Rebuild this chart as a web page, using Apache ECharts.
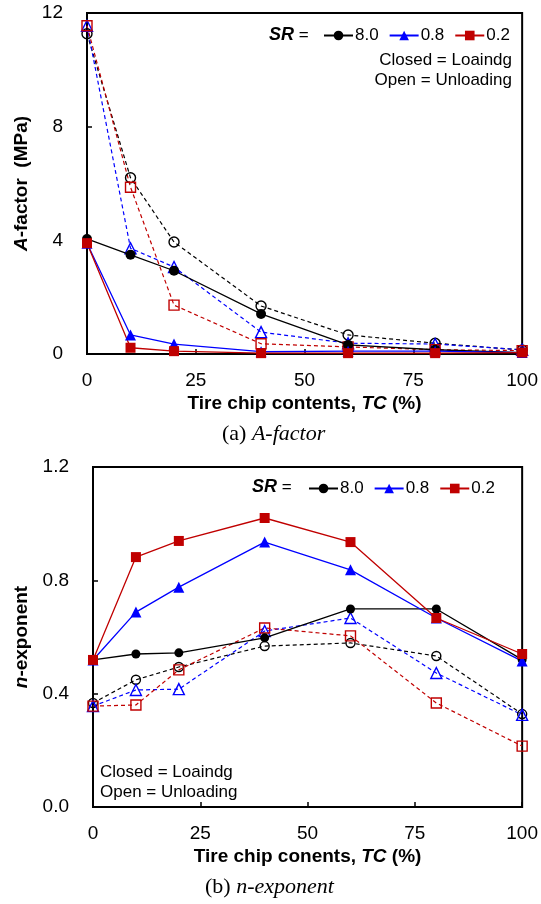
<!DOCTYPE html>
<html><head><meta charset="utf-8">
<script src="https://cdn.jsdelivr.net/npm/echarts@6/dist/echarts.min.js"></script>
<style>html,body{margin:0;padding:0;background:#fff}#c{width:541px;height:904px}</style>
</head><body><div id="c"></div>
<script>
const tc = [0, 10, 20, 40, 60, 80, 100];
const xTicks = [0, 25, 50, 75, 100];
const aTicks = [0, 4, 8, 12];
const nTicks = [0, 0.4, 0.8, 1.2];
const srNames = ['8.0', '0.8', '0.2'];

// (a) A-factor (MPa)
const aLoad80 = [4.05, 3.49, 2.93, 1.41, 0.32, 0.15, 0.05];
const aLoad08 = [3.9, 0.67, 0.35, 0.08, 0.1, 0.1, 0.05];
const aLoad02 = [3.9, 0.22, 0.1, 0.03, 0.03, 0.03, 0.05];
const aUnl80 = [11.27, 6.2, 3.94, 1.69, 0.67, 0.38, 0.14];
const aUnl08 = [11.55, 3.72, 3.06, 0.77, 0.38, 0.35, 0.15];
const aUnl02 = [11.55, 5.87, 1.72, 0.36, 0.25, 0.15, 0.12];

// (b) n-exponent
const nLoad80 = [0.519, 0.54, 0.544, 0.597, 0.699, 0.699, 0.52];
const nLoad08 = [0.519, 0.688, 0.776, 0.935, 0.837, 0.667, 0.515];
const nLoad02 = [0.519, 0.882, 0.939, 1.02, 0.935, 0.667, 0.54];
const nUnl80 = [0.367, 0.449, 0.494, 0.568, 0.579, 0.533, 0.328];
const nUnl08 = [0.356, 0.413, 0.416, 0.621, 0.667, 0.473, 0.325];
const nUnl02 = [0.356, 0.36, 0.484, 0.632, 0.604, 0.367, 0.215];

const colors = ['#000000', '#0000FF', '#C00000'];
const syms = ['circle', 'triangle', 'rect'];
const FONT = 'Liberation Sans';
const pair = (ys) => ys.map((y, i) => [tc[i], y]);

function closed(name, data, k, gi, size) {
  return { name: name, type: 'line', xAxisIndex: gi, yAxisIndex: gi, data: pair(data),
    symbol: syms[k], symbolSize: size, z: 5,
    lineStyle: { color: colors[k], width: 1.3, type: 'solid' },
    itemStyle: { color: colors[k] }, emphasis: { disabled: true }, animation: false };
}
function open(name, data, k, gi, size) {
  return { name: name, type: 'line', xAxisIndex: gi, yAxisIndex: gi, data: pair(data),
    symbol: syms[k], symbolSize: size, z: 3,
    lineStyle: { color: colors[k], width: 1.2, type: [4, 3] },
    itemStyle: { color: 'rgba(255,255,255,0)', borderColor: colors[k], borderWidth: 1.4 },
    emphasis: { disabled: true }, animation: false };
}

function xAx(gi, nm) {
  return { type: 'value', gridIndex: gi, min: xTicks[0], max: xTicks[xTicks.length - 1], interval: 25,
    axisLine: { lineStyle: { color: '#000', width: 2 } },
    axisTick: { inside: true, length: 5, lineStyle: { color: '#000', width: 1.5 } },
    splitLine: { show: false },
    axisLabel: { color: '#000', fontFamily: FONT, fontSize: 19, margin: 17 },
    name: nm, nameLocation: 'middle', nameGap: 40,
    nameTextStyle: { rich: {
      b: { fontFamily: FONT, fontWeight: 'bold', fontSize: 19, color: '#000' },
      i: { fontFamily: FONT, fontWeight: 'bold', fontStyle: 'italic', fontSize: 19, color: '#000' } } } };
}
function yAx(gi, ticks, fmt, nm, gap) {
  return { type: 'value', gridIndex: gi, min: ticks[0], max: ticks[ticks.length - 1], interval: ticks[1] - ticks[0],
    axisLine: { show: true, lineStyle: { color: '#000', width: 2 } },
    axisTick: { show: true, inside: true, length: 5, lineStyle: { color: '#000', width: 1.5 } },
    splitLine: { show: false },
    axisLabel: { color: '#000', fontFamily: FONT, fontSize: 19, margin: 24, formatter: fmt },
    name: nm, nameLocation: 'middle', nameGap: gap,
    nameTextStyle: { rich: {
      b: { fontFamily: FONT, fontWeight: 'bold', fontSize: 19, color: '#000' },
      i: { fontFamily: FONT, fontWeight: 'bold', fontStyle: 'italic', fontSize: 19, color: '#000' } } } };
}

function legend(left, top) {
  return { left: left, top: top, orient: 'horizontal', itemWidth: 29, itemHeight: 12, itemGap: 10,
    data: srNames, selectedMode: false, padding: 0,
    textStyle: { fontFamily: FONT, fontSize: 17, color: '#000', padding: [0, 0, 0, -3] } };
}

const option = {
  backgroundColor: '#fff',
  animation: false,
  grid: [
    { left: 87, right: 15, top: 13, bottom: 550, show: true, borderColor: '#000', borderWidth: 2, backgroundColor: 'transparent' },
    { left: 93, right: 16, top: 467, bottom: 97, show: true, borderColor: '#000', borderWidth: 2, backgroundColor: 'transparent' }
  ],
  xAxis: [
    xAx(0, '{b|Tire chip contents, }{i|TC}{b| (%)}'),
    xAx(1, '{b|Tire chip conents, }{i|TC}{b| (%)}')
  ],
  yAxis: [
    yAx(0, aTicks, (v) => String(v), '{i|A}{b|-factor  (MPa)}', 45),
    yAx(1, nTicks, (v) => v.toFixed(1), '{i|n}{b|-exponent}', 62)
  ],
  legend: [legend(323, 27), legend(308, 480)],
  series: [
    open('a80o', aUnl80, 0, 0, 10), open('a08o', aUnl08, 1, 0, 11), open('a02o', aUnl02, 2, 0, 10),
    closed(srNames[0], aLoad80, 0, 0, 10), closed(srNames[1], aLoad08, 1, 0, 11), closed(srNames[2], aLoad02, 2, 0, 10),
    open('n80o', nUnl80, 0, 1, 9), open('n08o', nUnl08, 1, 1, 11), open('n02o', nUnl02, 2, 1, 10),
    closed(srNames[0], nLoad80, 0, 1, 9), closed(srNames[1], nLoad08, 1, 1, 11), closed(srNames[2], nLoad02, 2, 1, 10)
  ],
  graphic: [
    { type: 'text', left: 269, top: 26, style: { text: '{i|SR}{n| =}', rich: {
      i: { fontFamily: FONT, fontWeight: 'bold', fontStyle: 'italic', fontSize: 18, fill: '#000' },
      n: { fontFamily: FONT, fontSize: 17, fill: '#000' } } } },
    { type: 'text', right: 29, top: 52, style: { text: 'Closed = Loaindg', align: 'right', font: '17px ' + FONT, fill: '#000' } },
    { type: 'text', right: 29, top: 72, style: { text: 'Open = Unloading', align: 'right', font: '17px ' + FONT, fill: '#000' } },
    { type: 'text', left: 252, top: 478, style: { text: '{i|SR}{n| =}', rich: {
      i: { fontFamily: FONT, fontWeight: 'bold', fontStyle: 'italic', fontSize: 18, fill: '#000' },
      n: { fontFamily: FONT, fontSize: 17, fill: '#000' } } } },
    { type: 'text', left: 100, top: 764, style: { text: 'Closed = Loaindg', font: '17px ' + FONT, fill: '#000' } },
    { type: 'text', left: 100, top: 784, style: { text: 'Open = Unloading', font: '17px ' + FONT, fill: '#000' } },
    { type: 'text', left: 222, top: 423, style: { text: '{n|(a) }{i|A-factor}', rich: {
      n: { fontFamily: 'Liberation Serif', fontSize: 22, fill: '#000' },
      i: { fontFamily: 'Liberation Serif', fontStyle: 'italic', fontSize: 22, fill: '#000' } } } },
    { type: 'text', left: 205, top: 876, style: { text: '{n|(b) }{i|n-exponent}', rich: {
      n: { fontFamily: 'Liberation Serif', fontSize: 22, fill: '#000' },
      i: { fontFamily: 'Liberation Serif', fontStyle: 'italic', fontSize: 22, fill: '#000' } } } }
  ]
};
const chart = echarts.init(document.getElementById('c'), null, { renderer: 'canvas' });
chart.setOption(option);
</script></body></html>
